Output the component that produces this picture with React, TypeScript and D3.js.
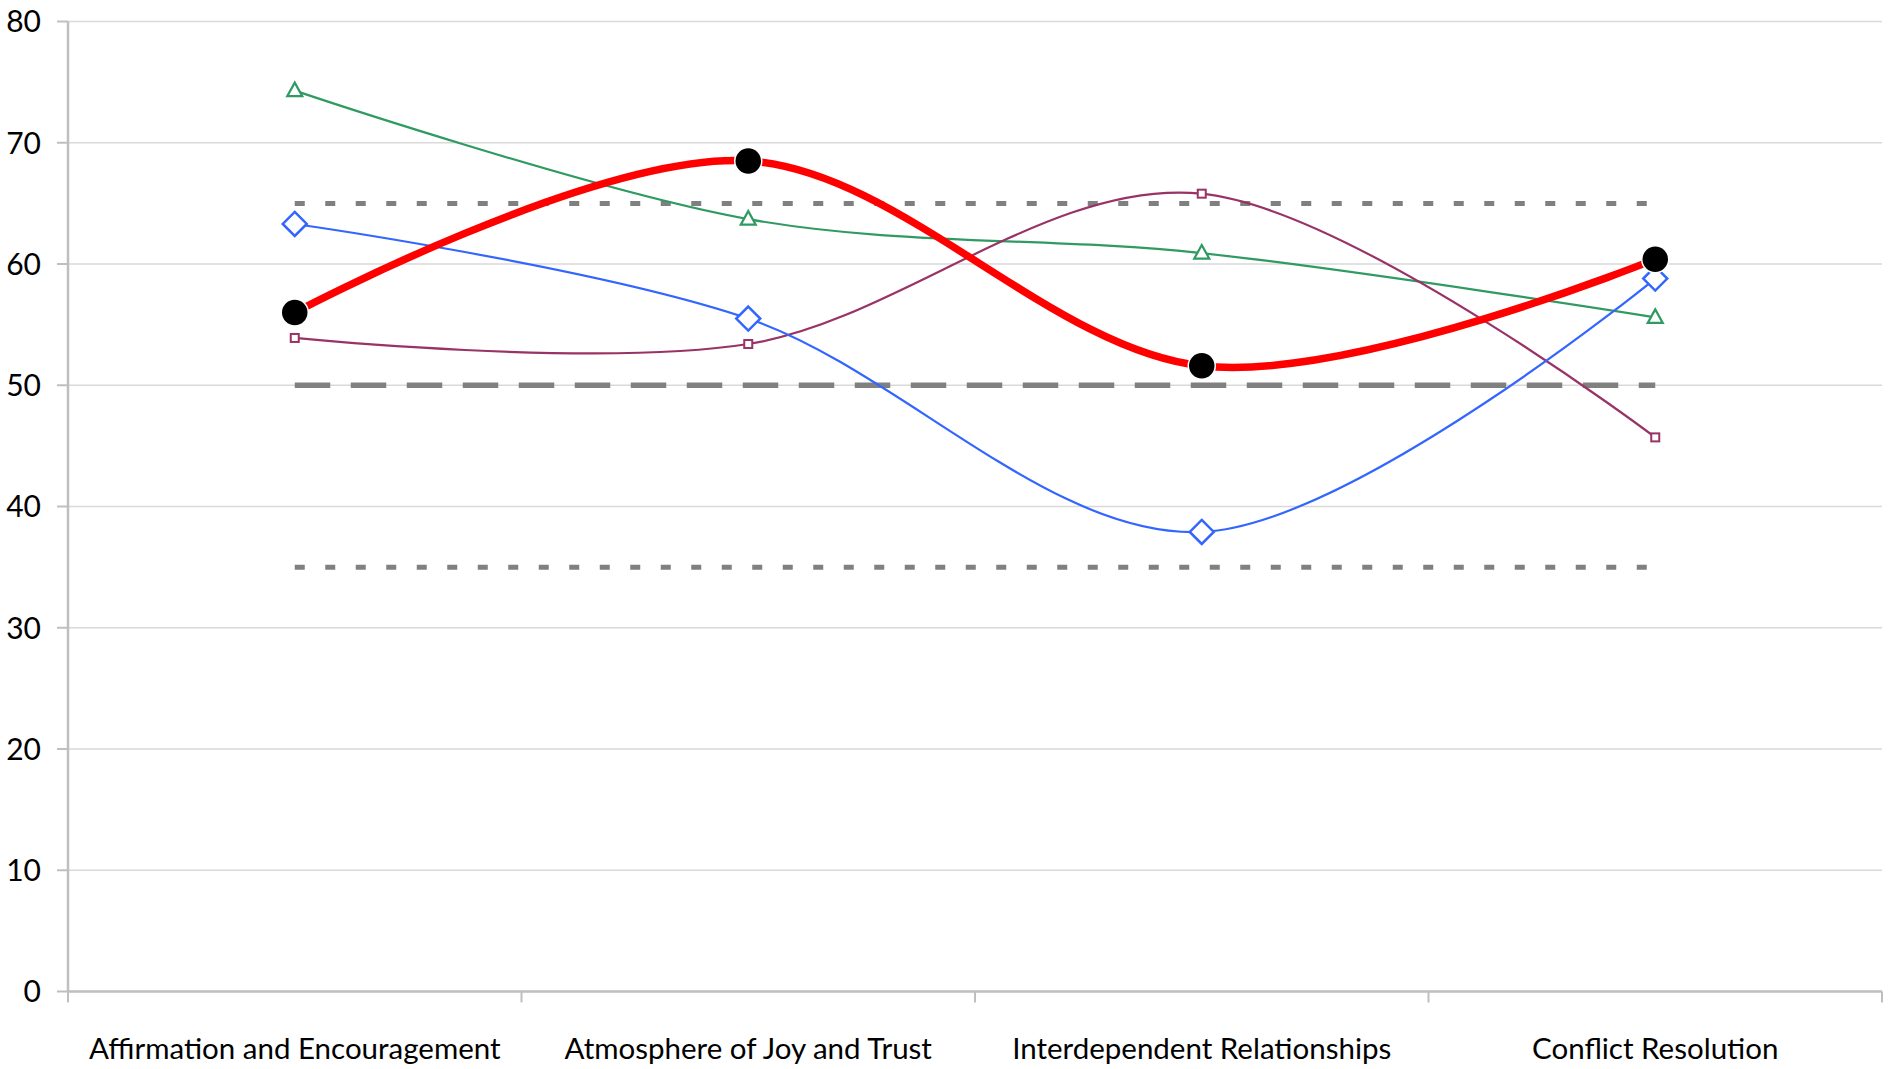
import React from "react";
import * as d3 from "d3";

const categories = [
  "Affirmation and Encouragement",
  "Atmosphere of Joy and Trust",
  "Interdependent Relationships",
  "Conflict Resolution",
];
const redValues = [56.0, 68.5, 51.6, 60.4];
const blueValues = [63.3, 55.5, 37.9, 58.8];
const greenValues = [74.3, 63.7, 60.9, 55.6];
const purpleValues = [53.9, 53.4, 65.8, 45.7];
const upperBand = [65, 65, 65, 65];
const midBand = [50, 50, 50, 50];
const lowerBand = [35, 35, 35, 35];
const yTicks = [0, 10, 20, 30, 40, 50, 60, 70, 80];

const W = 1896;
const H = 1069;
const left = 68;
const right = 1882;
const top = 21.5;
const bottom = 991.5;
const FONT = "'Gill Sans', 'Gill Sans MT', Lato, sans-serif";

export default function App() {
  const x = d3.scaleBand<string>().domain(categories).range([left, right]).paddingInner(0).paddingOuter(0);
  const y = d3.scaleLinear().domain([0, 80]).range([bottom, top]);
  const cx = (i: number) => (x(categories[i]) as number) + x.bandwidth() / 2;

  const smooth = d3
    .line<number>()
    .x((_, i) => cx(i))
    .y((d) => y(d))
    .curve(d3.curveCardinal.tension(0));
  const straight = d3
    .line<number>()
    .x((_, i) => cx(i))
    .y((d) => y(d));

  const tickEdges = [...categories.map((c) => x(c) as number), right];

  return (
    <svg
      width={W}
      height={H}
      style={{ position: "absolute", left: 0, top: 0, background: "#fff" }}
      fontFamily={FONT}
    >
      {/* gridlines */}
      {yTicks.map((t) => (
        <line key={"g" + t} x1={left} x2={right} y1={y(t)} y2={y(t)} stroke="#d9d9d9" strokeWidth={1.5} />
      ))}
      {/* y axis */}
      <line x1={left} x2={left} y1={top} y2={bottom} stroke="#bfbfbf" strokeWidth={2.5} />
      {yTicks.map((t) => (
        <line key={"yt" + t} x1={left - 11} x2={left} y1={y(t)} y2={y(t)} stroke="#bfbfbf" strokeWidth={2} />
      ))}
      {yTicks.map((t) => (
        <text key={"yl" + t} x={41} y={y(t)} dy="0.36em" textAnchor="end" fontSize={30} fill="#000">
          {t}
        </text>
      ))}
      {/* x axis */}
      <line x1={left} x2={right} y1={bottom} y2={bottom} stroke="#bfbfbf" strokeWidth={2.5} />
      {tickEdges.map((e, i) => (
        <line key={"xt" + i} x1={e} x2={e} y1={bottom} y2={bottom + 11} stroke="#bfbfbf" strokeWidth={2} />
      ))}
      {categories.map((c, i) => (
        <text key={"xl" + i} x={cx(i)} y={1059} textAnchor="middle" fontSize={29.5} fill="#000">
          {c}
        </text>
      ))}

      {/* reference bands */}
      <path d={straight(upperBand) as string} fill="none" stroke="#808080" strokeWidth={5} strokeDasharray="10 20.5" />
      <path d={straight(lowerBand) as string} fill="none" stroke="#808080" strokeWidth={5} strokeDasharray="10 20.5" />
      <path d={straight(midBand) as string} fill="none" stroke="#808080" strokeWidth={5.5} strokeDasharray="35.5 20.5" />

      {/* green triangles */}
      <path d={smooth(greenValues) as string} fill="none" stroke="#2f9a62" strokeWidth={2.2} />
      {greenValues.map((v, i) => (
        <path
          key={"gm" + i}
          transform={`translate(${cx(i)},${y(v)})`}
          d="M0,-8 L7.5,5.5 L-7.5,5.5 Z"
          fill="#fff"
          stroke="#2f9a62"
          strokeWidth={2.2}
        />
      ))}

      {/* purple squares */}
      <path d={smooth(purpleValues) as string} fill="none" stroke="#993366" strokeWidth={2.2} />
      {purpleValues.map((v, i) => (
        <rect
          key={"pm" + i}
          x={cx(i) - 4}
          y={y(v) - 4}
          width={8}
          height={8}
          fill="#fff"
          stroke="#993366"
          strokeWidth={2}
        />
      ))}

      {/* blue diamonds */}
      <path d={smooth(blueValues) as string} fill="none" stroke="#3366ff" strokeWidth={2.2} />
      {blueValues.map((v, i) => (
        <path
          key={"bm" + i}
          transform={`translate(${cx(i)},${y(v)})`}
          d="M0,-12 L12,0 L0,12 L-12,0 Z"
          fill="#fff"
          stroke="#3366ff"
          strokeWidth={2.5}
        />
      ))}

      {/* red main series */}
      <path d={smooth(redValues) as string} fill="none" stroke="#ff0000" strokeWidth={7.5} />
      {redValues.map((v, i) => (
        <circle key={"rm" + i} cx={cx(i)} cy={y(v)} r={13.5} fill="#000" stroke="#fff" strokeWidth={1.5} />
      ))}
    </svg>
  );
}
